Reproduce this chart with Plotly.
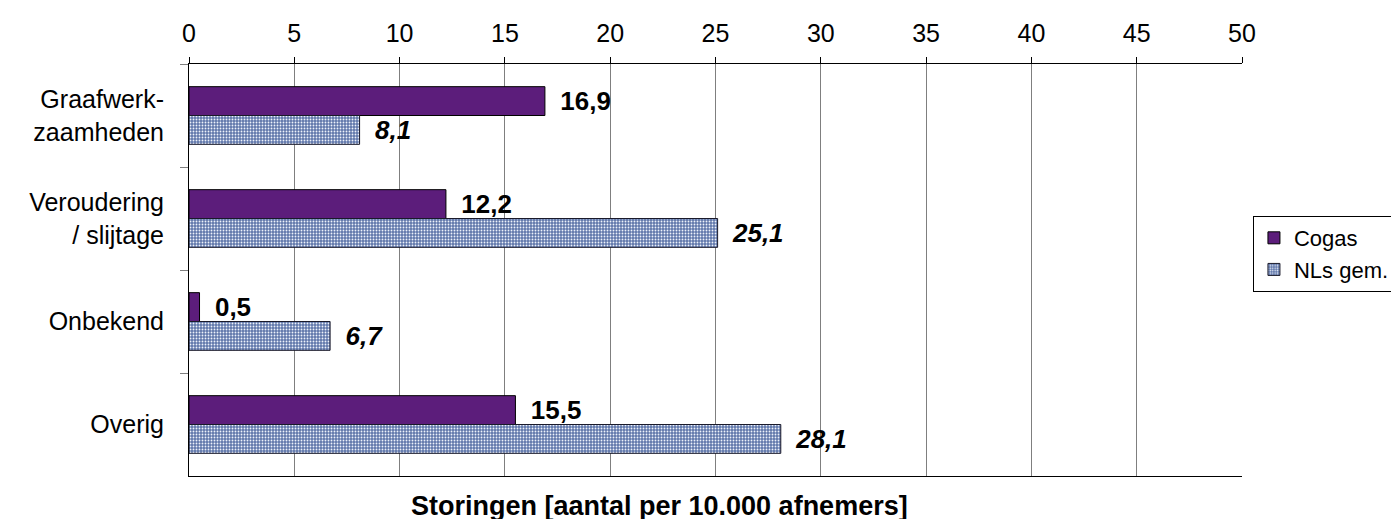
import plotly.graph_objects as go

categories = ["Graafwerk-<br>zaamheden", "Veroudering<br>/ slijtage", "Onbekend", "Overig"]
cogas = [16.9, 12.2, 0.5, 15.5]
nls = [8.1, 25.1, 6.7, 28.1]
series_names = ["Cogas", "NLs gem."]
x_ticks = [0, 5, 10, 15, 20, 25, 30, 35, 40, 45, 50]
x_title = "Storingen [aantal per 10.000 afnemers]"

def fmt(v):
    return f"{v:.1f}".replace(".", ",")

FONT = "Liberation Sans, Arial, sans-serif"

fig = go.Figure()
fig.add_trace(go.Bar(
    y=categories, x=cogas, orientation="h", name=series_names[0],
    marker=dict(color="#5c1d7b", line=dict(color="#000000", width=1)),
    text=[fmt(v) for v in cogas], textposition="outside",
    textfont=dict(family=FONT, size=27, color="#000000"),
    texttemplate="\u00a0\u2009<b>%{text}</b>", cliponaxis=False,
    legendgroup="a",
))
fig.add_trace(go.Bar(
    y=categories, x=nls, orientation="h", name=series_names[1],
    marker=dict(color="#6d86b8", line=dict(color="#1a1a2a", width=1),
                pattern=dict(shape=".", bgcolor="#5f77ab", fgcolor="#eef2fa",
                             size=3, solidity=0.3, fillmode="replace")),
    text=[fmt(v) for v in nls], textposition="outside",
    textfont=dict(family=FONT, size=27, color="#000000"),
    texttemplate="\u00a0\u2009<b><i>%{text}</i></b>", cliponaxis=False,
    legendgroup="b",
))

fig.update_layout(
    width=1399, height=519,
    margin=dict(l=181, r=156, t=56, b=51),
    paper_bgcolor="white", plot_bgcolor="white",
    font=dict(family=FONT, size=25, color="#000000"),
    barmode="group", bargap=0.44, bargroupgap=0,
    showlegend=True,
    legend=dict(x=1.0104, y=0.631, xanchor="left", yanchor="top",
                bordercolor="#000000", borderwidth=1, bgcolor="white",
                font=dict(family=FONT, size=22), traceorder="normal",
                tracegroupgap=18, itemwidth=30),
    xaxis=dict(side="top", range=[0, 50], tickvals=x_ticks,
               ticktext=[str(t) for t in x_ticks],
               showgrid=True, gridcolor="#7f7f7f", gridwidth=1,
               showline=True, linecolor="#000000", linewidth=1, mirror=True,
               ticks="outside", ticklen=6, tickcolor="#000000",
               ticklabelstandoff=5, automargin=False,
               tickfont=dict(size=25), zeroline=False),
    yaxis=dict(autorange="reversed", type="category",
               showline=True, linecolor="#000000", linewidth=1,
               ticks="outside", ticklen=8, tickcolor="#7f7f7f",
               tickson="boundaries", showgrid=False,
               ticklabelstandoff=19, automargin=False,
               tickfont=dict(size=25)),
    annotations=[dict(text="<b>" + x_title + "</b>", xref="paper", yref="paper",
                      x=0.447, y=0, yshift=-30, yanchor="middle", showarrow=False,
                      font=dict(family=FONT, size=27))],
)

fig.write_html("out.html")
